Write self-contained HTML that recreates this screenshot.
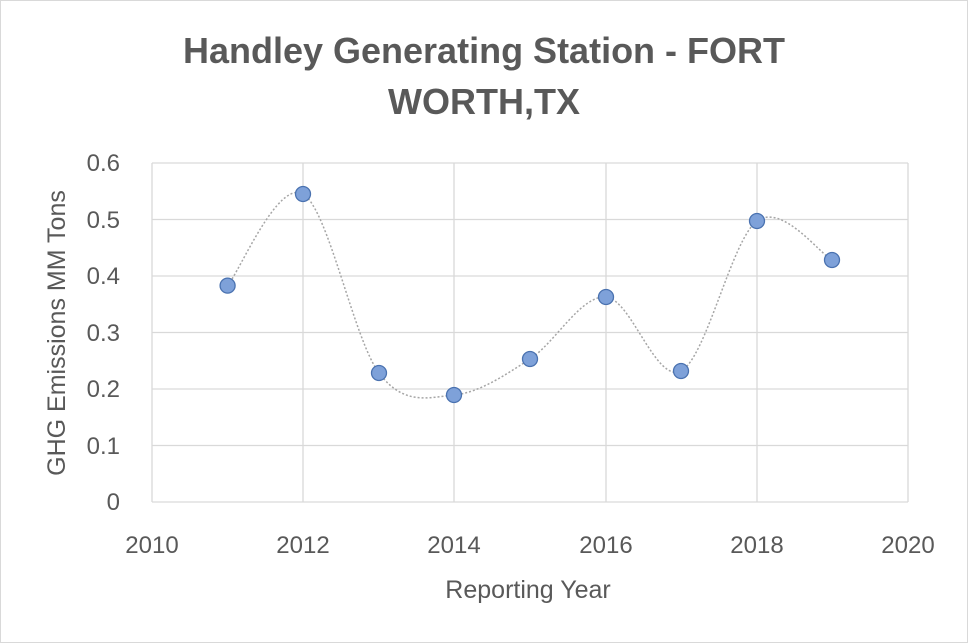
<!DOCTYPE html>
<html><head><meta charset="utf-8"><style>
html,body{margin:0;padding:0;background:#fff}
svg{display:block}
text{font-family:"Liberation Sans",sans-serif;fill:#595959}
</style></head><body>
<svg width="968" height="643" viewBox="0 0 968 643" xmlns="http://www.w3.org/2000/svg">
<rect x="0.5" y="0.5" width="967" height="642" fill="#fff" stroke="#d9d9d9"/>
<text x="484" y="63" font-size="36" font-weight="bold" text-anchor="middle">Handley Generating Station - FORT</text>
<text x="484" y="114" font-size="36" font-weight="bold" text-anchor="middle">WORTH,TX</text>
<g stroke="#d9d9d9" stroke-width="1.3">
<line x1="152" y1="163" x2="908" y2="163"/>
<line x1="152" y1="219.5" x2="908" y2="219.5"/>
<line x1="152" y1="276" x2="908" y2="276"/>
<line x1="152" y1="332.5" x2="908" y2="332.5"/>
<line x1="152" y1="389" x2="908" y2="389"/>
<line x1="152" y1="445.5" x2="908" y2="445.5"/>
<line x1="152" y1="502" x2="908" y2="502"/>
<line x1="152" y1="163" x2="152" y2="502"/>
<line x1="303" y1="163" x2="303" y2="502"/>
<line x1="454" y1="163" x2="454" y2="502"/>
<line x1="606" y1="163" x2="606" y2="502"/>
<line x1="757" y1="163" x2="757" y2="502"/>
<line x1="908" y1="163" x2="908" y2="502"/>
</g>
<g font-size="24" text-anchor="end">
<text x="120" y="171">0.6</text><text x="120" y="228">0.5</text><text x="120" y="284">0.4</text>
<text x="120" y="341">0.3</text><text x="120" y="397">0.2</text><text x="120" y="454">0.1</text><text x="120" y="510">0</text>
</g>
<g font-size="24" text-anchor="middle">
<text x="152" y="553">2010</text><text x="303" y="553">2012</text><text x="454" y="553">2014</text>
<text x="606" y="553">2016</text><text x="757" y="553">2018</text><text x="908" y="553">2020</text>
</g>
<text x="528" y="598" font-size="25" text-anchor="middle">Reporting Year</text>
<text transform="translate(65,333) rotate(-90)" font-size="25" text-anchor="middle">GHG Emissions MM Tons</text>
<path d="M227.6,285.6 C240.2,270.3 277.8,179.4 303,194 C328.2,208.6 353.8,339.5 379,373 C404.2,406.5 428.8,397.3 454,395 C479.2,392.7 504.7,375.3 530,359 C555.3,342.7 580.8,295 606,297 C631.2,299 655.8,383.7 681,371 C706.2,358.3 731.8,239.2 757,221 C782.2,202.8 819.5,253.5 832,260" fill="none" stroke="#a6a6a6" stroke-width="1.5" stroke-dasharray="2,2"/>
<g fill="#7ea1d9" stroke="#4a72b0" stroke-width="1.3">
<circle cx="227.6" cy="285.6" r="7.5"/><circle cx="303" cy="194" r="7.5"/><circle cx="379" cy="373" r="7.5"/>
<circle cx="454" cy="395" r="7.5"/><circle cx="530" cy="359" r="7.5"/><circle cx="606" cy="297" r="7.5"/>
<circle cx="681" cy="371" r="7.5"/><circle cx="757" cy="221" r="7.5"/><circle cx="832" cy="260" r="7.5"/>
</g>
</svg>
</body></html>
